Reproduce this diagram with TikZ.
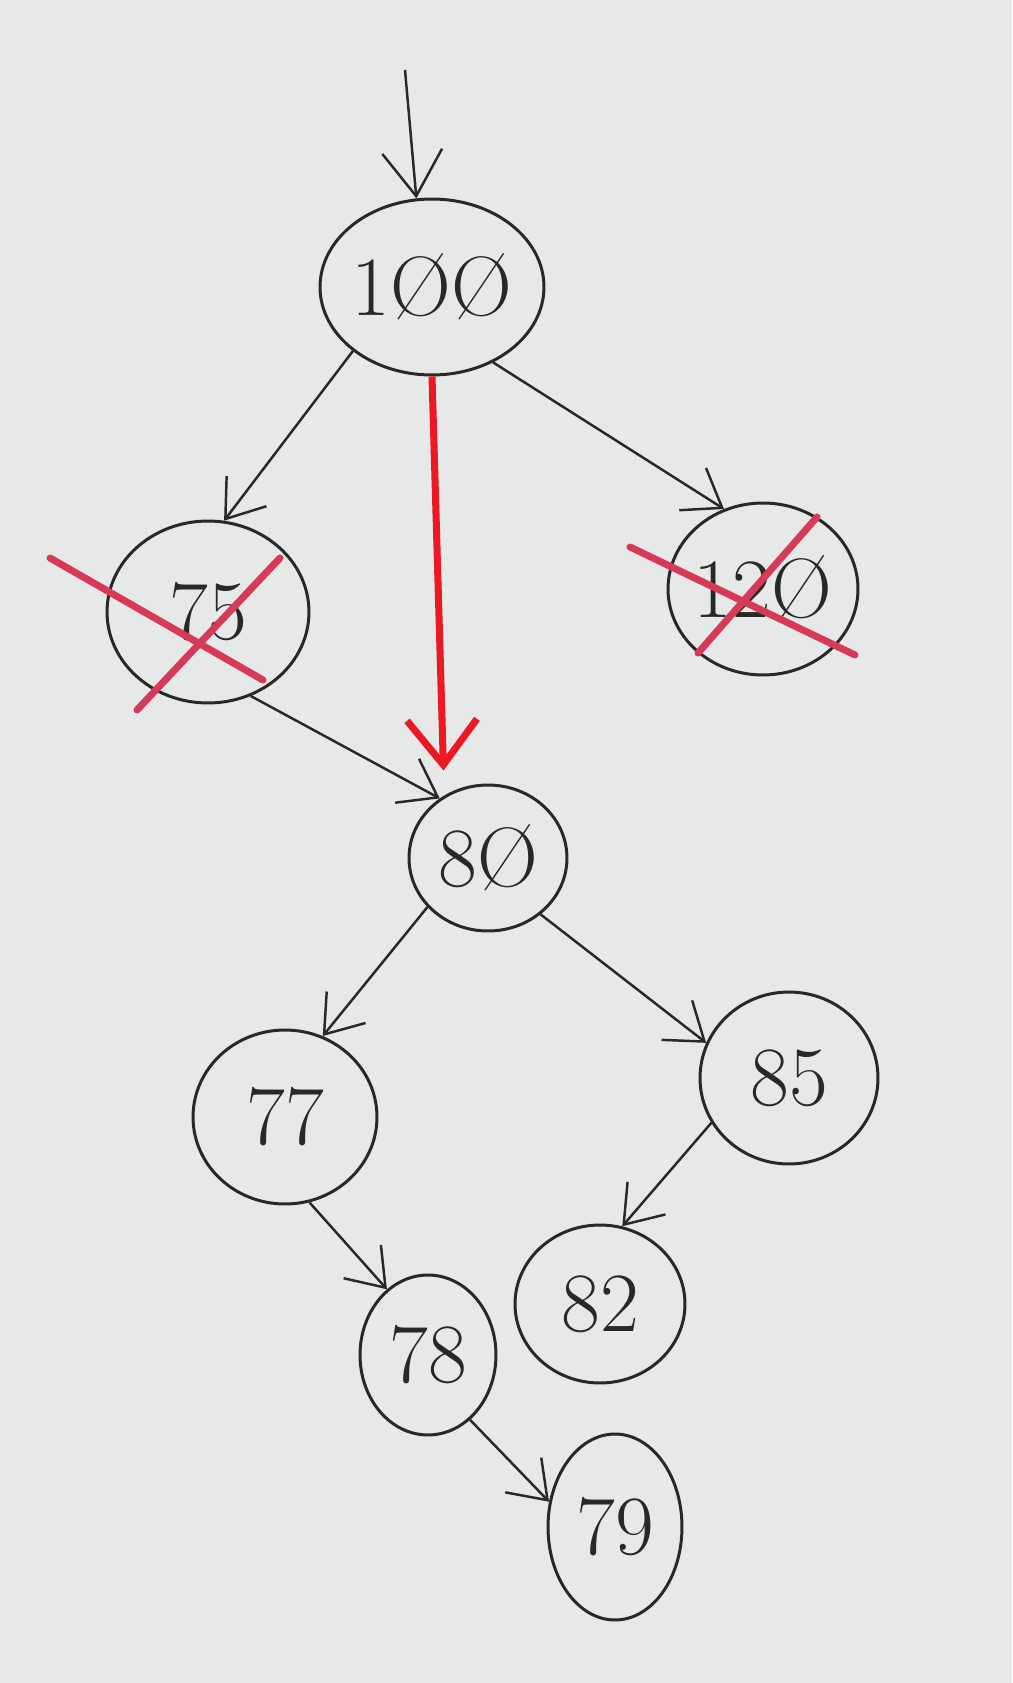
\documentclass[tikz,border=0pt]{standalone}
\usepackage{tikz}
\usetikzlibrary{shapes.geometric}
\usetikzlibrary{arrows.meta}
\definecolor{paper}{RGB}{231,233,232}
\definecolor{penred}{RGB}{236,24,36}
\definecolor{crossred}{RGB}{214,58,88}
\definecolor{ink}{RGB}{40,40,38}

\begin{document}
\begin{tikzpicture}[x=0.02cm,y=-0.02cm,->,>={Straight Barb[length=7mm,width=10mm]},line width=1.4pt,ink]
\tikzstyle{k}=[ellipse,draw,line width=1.7pt,inner sep=0pt]
\tikzstyle{strike}=[-,crossred,line width=4pt,line cap=round]
\tikzstyle{hot}=[penred,line width=4pt]
\tikzset{every label/.style={font=\fontsize{48}{58}\selectfont,text=ink}}
\useasboundingbox (0,0) rectangle (1012,1683);
\fill[paper] (0,0) rectangle (1012,1683);
% the tree
\node[k, minimum width=4.48cm, minimum height=3.52cm, label=center:{1ØØ}] (n100) at (432,287) {};
\node[k, minimum width=4.04cm, minimum height=3.64cm, label=center:{75}]  (n75)  at (208,612) {};
\node[k, minimum width=3.80cm, minimum height=3.44cm, label=center:{12Ø}] (n120) at (763,589) {};
\node[k, minimum width=3.16cm, minimum height=2.92cm, label=center:{8Ø}]  (n80)  at (488,858) {};
\node[k, minimum width=3.68cm, minimum height=3.48cm, label=center:{77}]  (n77)  at (285,1117) {};
\node[k, minimum width=3.56cm, minimum height=3.44cm, label=center:{85}]  (n85)  at (789,1078) {};
\node[k, minimum width=3.40cm, minimum height=3.16cm, label=center:{82}]  (n82)  at (600,1304) {};
\node[k, minimum width=2.72cm, minimum height=3.20cm, label=center:{78}]  (n78)  at (428,1355) {};
\node[k, minimum width=2.68cm, minimum height=3.72cm, label=center:{79}]  (n79)  at (615,1527) {};
\coordinate (top) at (405,70);
\draw[>={Straight Barb[length=9mm,width=12mm]}] (top) -- (n100.100);
\path (n100.219) edge (n75.80)
      (n100.309) edge (n120.116)
      (n75.297)  edge (n80.129)
      (n80.219)  edge (n77.65)
      (n80.313)  edge (n85.157)
      (n77.286)  edge (n78.122)
      (n85.210)  edge (n82.74)
      (n78.303)  edge (n79.159);
\draw[hot,shorten >=5mm,>={Straight Barb[length=9mm,width=14mm]}] (n100.south) -- (n80.125);
% crossed out
\draw[strike] (50,558) -- (263,680);
\draw[strike] (280,558) -- (137,710);
\draw[strike] (630,547) -- (855,655);
\draw[strike] (817,517) -- (698,653);
\end{tikzpicture}
\end{document}
